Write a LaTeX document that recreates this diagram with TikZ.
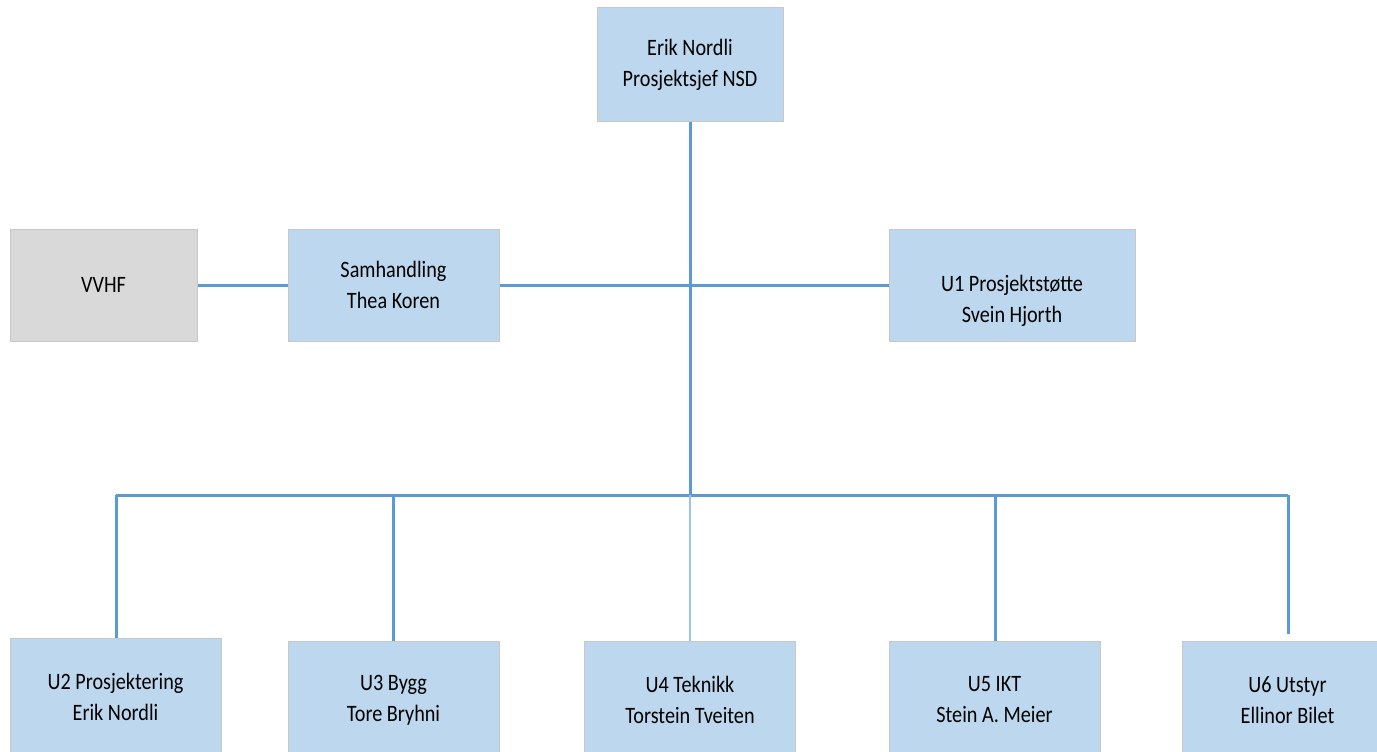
\documentclass[tikz,border=0pt]{standalone}
\usepackage{fontspec}
\setmainfont[FakeStretch=0.86]{Carlito}
\definecolor{boxblue}{HTML}{BDD7EE}
\definecolor{boxgrey}{HTML}{D9D9D9}
\definecolor{edgegrey}{HTML}{C8C8C8}
\definecolor{linkblue}{HTML}{5B9BD5}
\definecolor{linklight}{HTML}{9DC3E6}
\tikzset{
  unit/.style={draw=edgegrey, line width=1pt, fill=boxblue, align=center,
    font=\fontsize{23.5}{31}\selectfont, inner sep=0pt, text=black},
  ext/.style={unit, fill=boxgrey},
  link/.style={draw=linkblue, line width=3pt},
  thinlink/.style={draw=linklight, line width=1.5pt}
}
\begin{document}
\begin{tikzpicture}[x=1pt,y=-1pt]
\useasboundingbox (0,0) rectangle (1377,752);
\clip (0,0) rectangle (1377,752);
\fill[white] (0,0) rectangle (1377,752);

\node[unit, minimum width=186pt, minimum height=113pt] (top) at (690,64.5) {Erik Nordli\\Prosjektsjef NSD};
\node[ext, minimum width=187pt, minimum height=112pt] (vvhf) at (103.5,285) {VVHF};
\node[unit, minimum width=211pt, minimum height=112pt] (sam) at (393.5,285) {Samhandling\\Thea Koren};
\node[unit, minimum width=246pt, minimum height=112pt,
  label={[font=\fontsize{23.5}{31}\selectfont, align=center, text=black, yshift=-16pt]center:U1 Prosjektstøtte\\Svein Hjorth}] (u1) at (1012,285) {};

\node[unit, minimum width=211pt, minimum height=118pt] (u2) at (115.5,697) {U2 Prosjektering\\Erik Nordli};
\node[unit, minimum width=211pt, minimum height=118pt] (u3) at (393.5,700) {U3 Bygg\\Tore Bryhni};
\node[unit, minimum width=211pt, minimum height=118pt] (u4) at (690,700) {U4 Teknikk\\Torstein Tveiten};
\node[unit, minimum width=211pt, minimum height=118pt] (u5) at (994.5,700) {U5 IKT\\Stein A. Meier};
\node[unit, minimum width=211pt, minimum height=118pt] (u6) at (1287.5,700) {U6 Utstyr\\Ellinor Bilet};

\coordinate (busL) at (116,495);
\coordinate (busM) at (690,495);
\coordinate (busR) at (1288,495);
\coordinate (b3) at (393,495);
\coordinate (b5) at (995,495);
\coordinate (u6end) at (1288,634);

\draw[link] (vvhf.east) -- (sam.west);
\draw[link] (sam.east) -- (u1.west);
\draw[link] (top.south) -- (busM);
\draw[link] (busL) -- (busR);
\draw[link] (busL) -- (u2.north -| busL);
\draw[link] (b3) -- (u3.north -| b3);
\draw[thinlink] (busM) -- (u4.north);
\draw[link] (b5) -- (u5.north -| b5);
\draw[link] (busR) -- (u6end);
\end{tikzpicture}
\end{document}
